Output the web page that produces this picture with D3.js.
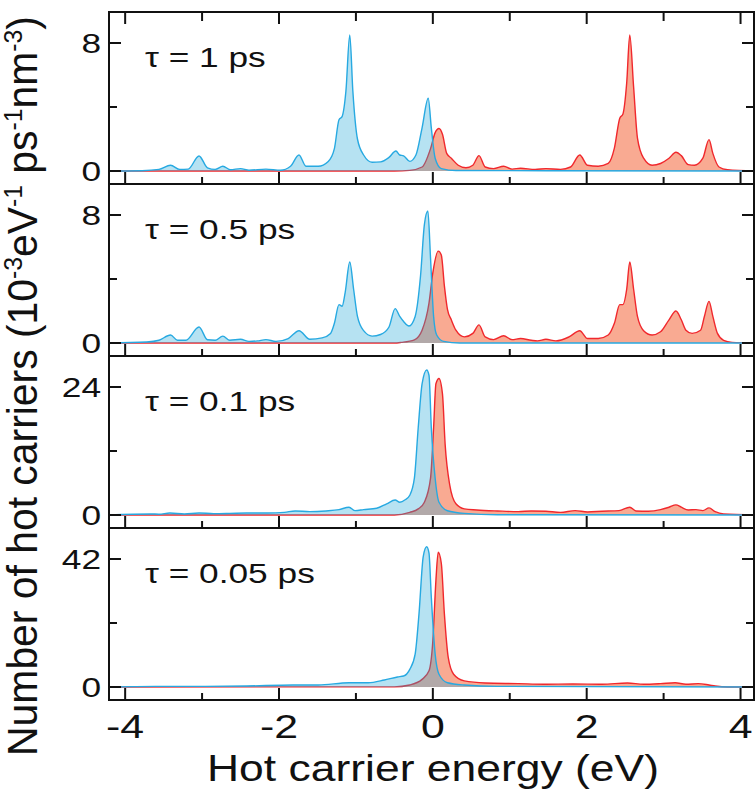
<!DOCTYPE html>
<html>
<head>
<meta charset="utf-8">
<script src="https://cdn.jsdelivr.net/npm/d3@7"></script>
<style>
  body { margin: 0; background: #fff; }
  text { font-family: "Liberation Sans", Arial, Helvetica, sans-serif; fill: #111; }
</style>
</head>
<body>
<svg id="chart" width="756" height="792"></svg>
<script>
// Panel labels and the top tick of each panel's y axis
var tauLabels = ['τ = 1 ps', 'τ = 0.5 ps', 'τ = 0.1 ps', 'τ = 0.05 ps'];
var yTopTicks = [8, 8, 24, 42];
var xMajorTicks = [-4, -2, 0, 2, 4];
var xMinorTicks = [-3, -1, 1, 3];

// [energy (eV), hot carriers] — holes (blue)
var holes1ps = [[-4.21,0],[-3.78,0.02],[-3.56,0.1],[-3.41,0.36],[-3.29,0.1],[-3.18,0.12],[-3.04,0.94],[-2.93,0.2],
  [-2.83,0.1],[-2.73,0.3],[-2.63,0.08],[-2.5,0.15],[-2.39,0.05],[-2.17,0.12],[-1.98,0.05],[-1.85,0.3],[-1.74,1.0],
  [-1.65,0.3],[-1.49,0.3],[-1.36,0.6],[-1.28,1.4],[-1.22,3.2],[-1.18,3.4],[-1.13,5.0],[-1.08,8.5],[-1.04,5.0],
  [-0.98,2.0],[-0.9,1.0],[-0.79,0.55],[-0.68,0.57],[-0.57,0.85],[-0.48,1.25],[-0.43,1.0],[-0.38,0.95],[-0.3,0.6],
  [-0.22,1.0],[-0.14,2.7],[-0.06,4.55],[-0.02,2.7],[0.03,0.8],[0.11,0.15],[0.3,0.03],[4.18,0]];
var holes05ps = [[-4.21,0],[-3.72,0.06],[-3.56,0.17],[-3.41,0.5],[-3.32,0.17],[-3.21,0.17],[-3.04,1.0],[-2.93,0.2],
  [-2.83,0.17],[-2.73,0.43],[-2.64,0.17],[-2.5,0.23],[-2.39,0.1],[-2.28,0.13],[-2.17,0.21],[-2.04,0.1],[-1.88,0.28],
  [-1.74,0.77],[-1.6,0.23],[-1.44,0.32],[-1.33,0.6],[-1.28,1.23],[-1.22,2.4],[-1.18,2.3],[-1.14,3.15],[-1.08,5.06],
  [-1.03,3.36],[-0.98,1.66],[-0.9,0.77],[-0.79,0.43],[-0.68,0.53],[-0.57,1.0],[-0.49,2.15],[-0.43,1.66],[-0.38,1.34],
  [-0.31,1.06],[-0.23,1.66],[-0.16,4.2],[-0.11,7.4],[-0.065,8.25],[-0.03,5.3],[0.01,1.66],[0.05,0.5],[0.14,0.1],
  [0.35,0],[4.18,0]];
var holes01ps = [[-4.21,0],[-3.67,0.2],[-3.56,0.15],[-3.42,0.38],[-3.23,0.2],[-3.04,0.38],[-2.85,0.25],[-2.64,0.3],
  [-2.42,0.38],[-2.15,0.38],[-1.93,0.5],[-1.79,0.76],[-1.6,0.63],[-1.39,0.76],[-1.22,1.0],[-1.09,1.46],[-1.01,0.82],
  [-0.9,1.0],[-0.73,1.27],[-0.6,2.1],[-0.49,2.8],[-0.43,2.4],[-0.36,2.86],[-0.3,3.7],[-0.24,6.9],[-0.19,16.4],
  [-0.14,24.6],[-0.08,27.2],[-0.05,26.2],[-0.02,16.4],[0.03,6.9],[0.08,2.4],[0.19,0.8],[0.41,0.3],[0.84,0.06],[4.18,0]];
var holes005ps = [[-4.21,0],[-3.61,0.2],[-2.96,0.22],[-2.42,0.33],[-1.82,0.66],[-1.49,0.66],[-1.09,1.4],[-0.84,1.4],
  [-0.63,2.3],[-0.46,3.3],[-0.38,3.6],[-0.3,5.8],[-0.23,10.8],[-0.18,24],[-0.125,42.8],[-0.08,46],[-0.05,43.9],
  [-0.02,29.5],[0.03,10.8],[0.08,4.2],[0.19,1.4],[0.41,0.66],[0.84,0.22],[4.18,0]];

// electrons (red)
var electrons1ps = [[-4.21,0],[-0.5,0],[-0.3,0.04],[-0.14,0.25],[-0.03,1.4],[0.03,2.4],[0.08,2.66],[0.125,2.3],
  [0.18,1.1],[0.24,0.8],[0.33,0.36],[0.43,0.2],[0.52,0.36],[0.6,0.96],[0.68,0.25],[0.79,0.15],[0.92,0.3],[1.03,0.12],
  [1.14,0.17],[1.33,0.1],[1.47,0.15],[1.66,0.1],[1.79,0.25],[1.91,1.0],[2.01,0.36],[2.15,0.3],[2.28,0.47],[2.36,1.43],
  [2.43,3.3],[2.47,3.55],[2.52,5.5],[2.56,8.5],[2.61,5.25],[2.66,2.06],[2.74,0.8],[2.85,0.36],[2.96,0.47],[3.07,0.8],
  [3.16,1.17],[3.23,0.96],[3.32,0.4],[3.4,0.36],[3.51,0.8],[3.59,1.96],[3.64,1.1],[3.72,0.25],[3.83,0.08],[4.18,0]];
var electrons05ps = [[-4.21,0],[-0.5,0],[-0.41,0.04],[-0.24,0.2],[-0.14,0.8],[-0.05,2.5],[0,4.4],[0.07,5.74],[0.11,5.5],
  [0.15,3.57],[0.19,2.1],[0.24,1.45],[0.3,0.8],[0.41,0.38],[0.52,0.6],[0.6,1.13],[0.68,0.38],[0.79,0.21],[0.92,0.45],
  [1.03,0.21],[1.14,0.28],[1.28,0.17],[1.36,0.13],[1.47,0.23],[1.6,0.13],[1.77,0.38],[1.91,0.77],[2.01,0.28],
  [2.15,0.28],[2.28,0.5],[2.36,1.23],[2.43,2.4],[2.47,2.4],[2.52,3.36],[2.56,5.06],[2.61,3.36],[2.66,1.66],[2.74,0.77],
  [2.85,0.5],[2.96,0.7],[3.07,1.45],[3.16,2.0],[3.23,1.45],[3.29,0.8],[3.37,0.6],[3.48,0.8],[3.53,1.66],[3.59,2.6],
  [3.64,1.66],[3.7,0.6],[3.78,0.17],[3.89,0.04],[4.18,0]];
var electrons01ps = [[-4.21,0],[-0.5,0],[-0.3,0.5],[-0.19,1.14],[-0.11,2.4],[-0.03,6.9],[0.01,16.4],[0.04,24.6],
  [0.08,25.6],[0.125,22.7],[0.16,13.2],[0.22,5.6],[0.3,2.1],[0.41,1.14],[0.57,0.95],[0.84,0.76],[1.11,0.63],[1.28,0.76],
  [1.47,0.7],[1.66,0.5],[1.85,0.82],[2.01,0.57],[2.2,0.7],[2.42,0.82],[2.56,1.46],[2.64,0.76],[2.8,0.7],[2.96,1.0],
  [3.07,1.46],[3.16,1.9],[3.23,1.46],[3.32,0.95],[3.42,1.0],[3.51,0.82],[3.59,1.33],[3.67,0.63],[3.78,0.2],[4.18,0]];
var electrons005ps = [[-4.21,0],[-0.5,0.05],[-0.3,0.66],[-0.14,2.5],[-0.05,5.3],[0,15.2],[0.04,35],[0.07,44.2],
  [0.11,40.6],[0.15,24],[0.2,9.7],[0.27,4.2],[0.41,2.0],[0.68,1.3],[1.11,1.1],[1.44,0.9],[1.82,1.0],[2.2,0.9],
  [2.53,1.3],[2.74,0.9],[2.96,1.1],[3.15,1.4],[3.29,0.9],[3.45,1.1],[3.59,0.66],[3.67,0.33],[3.83,0],[4.18,0]];

var holeSeries = [holes1ps, holes05ps, holes01ps, holes005ps];
var electronSeries = [electrons1ps, electrons05ps, electrons01ps, electrons005ps];

// layout
var LEFT = 109, RIGHT = 754, TOP = 12, PANEL_H = 172;
var STRETCH = 1.26;   // the figure is stretched sideways, text too
var svg = d3.select('#chart');

var x = d3.scaleLinear().domain([-4.21, 4.175]).range([LEFT, RIGHT]);

svg.append('defs').append('clipPath').attr('id', 'plotClip')
  .append('rect').attr('x', LEFT).attr('y', TOP).attr('width', RIGHT - LEFT).attr('height', PANEL_H * 4);

tauLabels.forEach(function(label, i) {
  var top = TOP + i * PANEL_H;
  var y = d3.scaleLinear().domain([0, yTopTicks[i]]).range([top + 159, top + 31]);

  var area = d3.area()
      .x(function(d) { return x(d[0]); })
      .y0(y(0))
      .y1(function(d) { return y(d[1]); })
      .curve(d3.curveMonotoneX);
  var line = d3.line()
      .x(function(d) { return x(d[0]); })
      .y(function(d) { return y(d[1]); })
      .curve(d3.curveMonotoneX);

  var g = svg.append('g').attr('clip-path', 'url(#plotClip)');
  g.append('path').datum(electronSeries[i]).attr('d', area).attr('fill', '#f9aa92');
  g.append('path').datum(electronSeries[i]).attr('d', line)
      .attr('fill', 'none').attr('stroke', '#f0282d').attr('stroke-width', 1.4);
  g.append('path').datum(holeSeries[i]).attr('d', area)
      .attr('fill', 'rgb(33,168,215)').attr('fill-opacity', 0.33);
  g.append('path').datum(holeSeries[i]).attr('d', line)
      .attr('fill', 'none').attr('stroke', '#27a9e1').attr('stroke-width', 1.4);

  // frame
  svg.append('rect').attr('x', LEFT).attr('y', top).attr('width', RIGHT - LEFT).attr('height', PANEL_H)
      .attr('fill', 'none').attr('stroke', '#111').attr('stroke-width', 2);

  var ticks = svg.append('g').attr('stroke', '#111').attr('stroke-width', 2);
  // x ticks, pointing up from the bottom of each panel
  xMajorTicks.forEach(function(t) {
    ticks.append('line').attr('x1', x(t)).attr('x2', x(t)).attr('y1', top + PANEL_H).attr('y2', top + PANEL_H - 12);
    if (i == 0) ticks.append('line').attr('x1', x(t)).attr('x2', x(t)).attr('y1', top).attr('y2', top + 12);
  });
  xMinorTicks.forEach(function(t) {
    ticks.append('line').attr('x1', x(t)).attr('x2', x(t)).attr('y1', top + PANEL_H).attr('y2', top + PANEL_H - 7);
    if (i == 0) ticks.append('line').attr('x1', x(t)).attr('x2', x(t)).attr('y1', top).attr('y2', top + 9);
  });
  // y ticks on both sides
  [[0, 12], [yTopTicks[i] / 2, 8], [yTopTicks[i], 12]].forEach(function(t) {
    ticks.append('line').attr('x1', LEFT).attr('x2', LEFT + t[1]).attr('y1', y(t[0])).attr('y2', y(t[0]));
    ticks.append('line').attr('x1', RIGHT).attr('x2', RIGHT - t[1]).attr('y1', y(t[0])).attr('y2', y(t[0]));
  });

  [0, yTopTicks[i]].forEach(function(v) {
    svg.append('text')
        .attr('transform', 'translate(101,' + (y(v) + 10) + ') scale(' + STRETCH + ',1)')
        .attr('text-anchor', 'end').style('font-size', '28px')
        .text(v);
  });

  svg.append('text')
      .attr('transform', 'translate(145,' + (top + 55) + ') scale(' + STRETCH + ',1)')
      .style('font-size', '28px')
      .text(label);
});

// bottom axis labels
var bottom = TOP + PANEL_H * 4;
xMajorTicks.forEach(function(t) {
  svg.append('text')
      .attr('transform', 'translate(' + x(t) + ',' + (bottom + 38) + ') scale(' + STRETCH + ',1)')
      .attr('text-anchor', 'middle').style('font-size', '34px')
      .text(t);
});

var xTitle = svg.append('text')
    .attr('text-anchor', 'middle').style('font-size', '36px')
    .text('Hot carrier energy (eV)');
xTitle.attr('transform', 'translate(433,781) scale(' + (452 / xTitle.node().getComputedTextLength()) + ',1)');

// y title, rotated; stretched across the glyphs like everything else
var yTitle = svg.append('text')
    .attr('text-anchor', 'middle').style('font-size', '33px');
yTitle.append('tspan').text('Number of hot carriers (10');
yTitle.append('tspan').attr('dy', -12).style('font-size', '20px').text('-3');
yTitle.append('tspan').attr('dy', 12).text('eV');
yTitle.append('tspan').attr('dy', -12).style('font-size', '20px').text('-1');
yTitle.append('tspan').attr('dy', 12).text(' ps');
yTitle.append('tspan').attr('dy', -12).style('font-size', '20px').text('-1');
yTitle.append('tspan').attr('dy', 12).text('nm');
yTitle.append('tspan').attr('dy', -12).style('font-size', '20px').text('-3');
yTitle.append('tspan').attr('dy', 12).text(')');
var titleLen = yTitle.node().getComputedTextLength();
yTitle.attr('transform', 'translate(37,386) scale(' + STRETCH + ',1) rotate(-90) scale(' + (740 / titleLen) + ',1)');
</script>
</body>
</html>
